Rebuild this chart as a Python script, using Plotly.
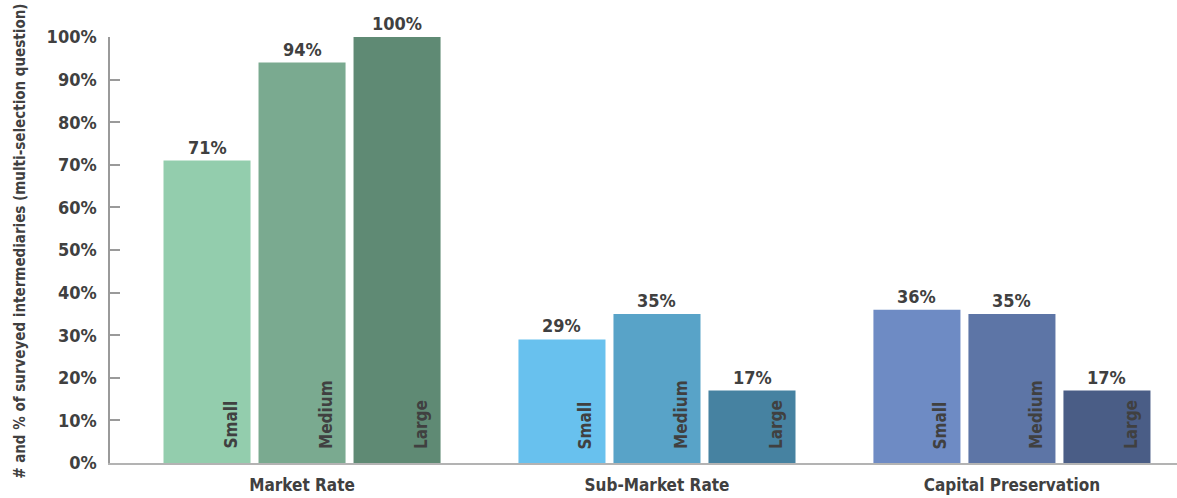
import plotly.graph_objects as go

# Survey results: share of intermediaries by capital type and firm size
categories = ["Market Rate", "Sub-Market Rate", "Capital Preservation"]
sizes = ["Small", "Medium", "Large"]
small_vals = [71, 29, 36]
medium_vals = [94, 35, 35]
large_vals = [100, 17, 17]
y_ticks = [0, 10, 20, 30, 40, 50, 60, 70, 80, 90, 100]
y_tick_labels = [f"{v}%" for v in y_ticks]

# Colour per (size, category): greens, sky blues, slate blues
colors = {
    "Small": ["#93cdad", "#68c1ee", "#6e8bc4"],
    "Medium": ["#7aaa90", "#58a3c8", "#5d75a6"],
    "Large": ["#5f8a74", "#4682a1", "#4a5d86"],
}
series = {"Small": small_vals, "Medium": medium_vals, "Large": large_vals}

FONT = "DejaVu Sans Condensed, DejaVu Sans, sans-serif"
TEXT = "#404040"
BARGAP = 0.197
GROUPGAP = 0.084


def font(size):
    return dict(family=FONT, size=size, color=TEXT, weight="bold")


x_idx = list(range(len(categories)))
fig = go.Figure()
for s in sizes:
    fig.add_trace(go.Bar(
        x=x_idx, y=series[s], name=s,
        marker=dict(color=colors[s], line=dict(width=0)),
        showlegend=False, hoverinfo="skip",
    ))

# Slot width of each bar within its group, for label placement
slot = (1 - BARGAP) / len(sizes)
bar_w = slot * (1 - GROUPGAP)
annotations = []
for k, s in enumerate(sizes):
    off = (k - (len(sizes) - 1) / 2) * slot
    for i, v in enumerate(series[s]):
        xc = i + off
        # value above the bar
        annotations.append(dict(
            x=xc, y=v, xref="x", yref="y", text=f"{v}%", showarrow=False,
            xanchor="center", yanchor="bottom", yshift=1, font=font(18),
        ))
        # size label, rotated, at bottom right inside the bar
        annotations.append(dict(
            x=xc + bar_w / 2, y=0, xref="x", yref="y", text=s, showarrow=False,
            textangle=-90, xanchor="right", yanchor="bottom",
            xshift=-8, yshift=12, font=font(17),
        ))

annotations.append(dict(
    x=-0.084, y=0.52, xref="paper", yref="paper",
    text="# and % of surveyed intermediaries (multi-selection question)",
    showarrow=False, textangle=-90, xanchor="center", yanchor="middle",
    font=font(15),
))

fig.update_layout(
    width=1177, height=498,
    margin=dict(l=110, r=0, t=37, b=35),
    paper_bgcolor="white", plot_bgcolor="white",
    barmode="group", bargap=BARGAP, bargroupgap=GROUPGAP,
    annotations=annotations,
    xaxis=dict(
        range=[-0.541, 2.465], tickvals=x_idx, ticktext=categories,
        showgrid=False, zeroline=False,
        showline=True, linecolor="#b3b3b3", linewidth=2,
        ticks="", tickfont=font(17),
        ticklabelstandoff=6,
    ),
    yaxis=dict(
        range=[0, 100], tickvals=y_ticks, ticktext=y_tick_labels,
        showgrid=False, zeroline=False,
        showline=True, linecolor="#9a9a9a", linewidth=1.5,
        ticks="inside", ticklen=10, tickcolor="#9a9a9a", tickwidth=1.5,
        tickfont=font(18),
        ticklabelstandoff=8,
    ),
)

fig.write_html("out.html")
